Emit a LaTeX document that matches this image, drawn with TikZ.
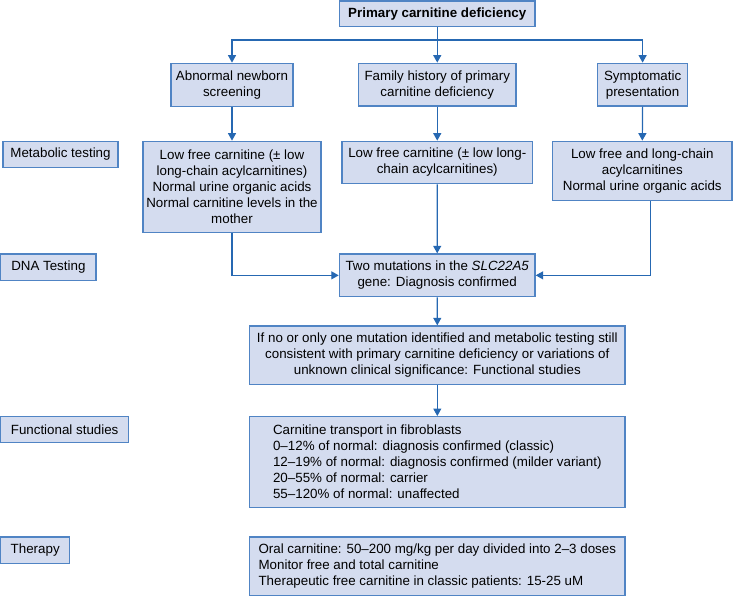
\documentclass[tikz,border=0pt]{standalone}
\usepackage{fontspec}
\setmainfont{Liberation Sans}
\usetikzlibrary{arrows.meta}
\definecolor{lineblue}{RGB}{38,104,178}
\definecolor{borderblue}{RGB}{80,132,196}
\definecolor{boxfill}{RGB}{212,220,239}
\begin{document}
\begin{tikzpicture}[x=1pt,y=1pt,
  box/.style={draw=borderblue, fill=boxfill, line width=1.3pt, inner sep=0pt, align=center,
    font={\fontsize{13.35}{16}\selectfont}},
  boxl/.style={box, align=left},
  conn/.style={draw=lineblue, line width=1.2pt},
  arr/.style={conn, -{Triangle[length=7.5pt,width=8pt]}}]
\useasboundingbox (0,0) rectangle (733,-596);

\node[box, font={\fontsize{13.35}{16}\selectfont\bfseries}, minimum width=195.5pt, minimum height=25.7pt] (top) at (437.25,-13.85) {Primary carnitine deficiency};

\node[box, minimum width=122pt, minimum height=43.4pt] (a1) at (232,-85) {Abnormal newborn\\screening};
\node[box, minimum width=157.5pt, minimum height=42.7pt] (b1) at (437.25,-84.65) {Family history of primary\\carnitine deficiency};
\node[box, minimum width=90.2pt, minimum height=42.7pt] (c1) at (642.6,-84.65) {Symptomatic\\presentation};

\node[box, minimum width=115pt, minimum height=26.4pt] (met) at (60.5,-154.5) {Metabolic testing};
\node[box, minimum width=178pt, minimum height=91pt] (a2) at (232,-186.8) {Low free carnitine (± low\\long-chain acylcarnitines)\\Normal urine organic acids\\Normal carnitine levels in the\\mother};
\node[box, minimum width=190.5pt, minimum height=42.4pt] (b2) at (437.25,-162.5) {Low free carnitine (± low long-\\chain acylcarnitines)};
\node[box, minimum width=179.4pt, minimum height=59pt] (c2) at (642.3,-170.8) {Low free and long-chain\\acylcarnitines\\Normal urine organic acids};

\node[box, minimum width=95.3pt, minimum height=26.3pt] (dnal) at (48.35,-267.15) {DNA Testing};
\node[box, minimum width=195.6pt, minimum height=42.7pt] (dna) at (437.2,-275.35) {Two mutations in the \textit{SLC22A5}\\gene: Diagnosis confirmed};

\node[box, minimum width=375.4pt, minimum height=58.7pt] (ifno) at (437.3,-355.35) {If no or only one mutation identified and metabolic testing still\\consistent with primary carnitine deficiency or variations of\\unknown clinical significance: Functional studies};

\node[box, minimum width=127.9pt, minimum height=26.4pt] (funl) at (64.65,-429.5) {Functional studies};
\node[boxl, minimum width=375.4pt, minimum height=91pt] (fun) at (437.3,-462.2) {Carnitine transport in fibroblasts\\0–12\% of normal: diagnosis confirmed (classic)\\12–19\% of normal: diagnosis confirmed (milder variant)\\20–55\% of normal: carrier\\55–120\% of normal: unaffected};

\node[box, minimum width=69pt, minimum height=26.3pt] (therl) at (35.2,-550.15) {Therapy};
\node[boxl, minimum width=375.4pt, minimum height=58.3pt] (ther) at (437.3,-566.15) {Oral carnitine: 50–200 mg/kg per day divided into 2–3 doses\\Monitor free and total carnitine\\Therapeutic free carnitine in classic patients: 15-25 uM};

\coordinate (j) at (437.25,-40);
\draw[conn] (top.south) -- (j);
\draw[arr] (j) -| (a1.north);
\draw[arr] (j) -- (b1.north);
\draw[arr] (j) -| (c1.north);

\draw[arr] (a1.south) -- (a2.north);
\draw[arr] (b1.south) -- (b2.north);
\draw[arr] (c1.south) -- (c2.north);

\draw[arr] (a2.south) |- (dna.west);
\draw[arr] (b2.south) -- (dna.north);
\draw[arr] ([xshift=8.5pt]c2.south) |- (dna.east);

\draw[arr] (dna.south) -- (ifno.north);
\draw[arr] (ifno.south) -- (fun.north);
\end{tikzpicture}
\end{document}
